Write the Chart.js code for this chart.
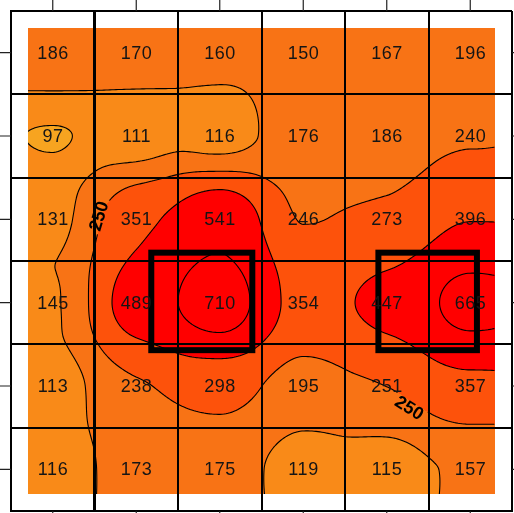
<!DOCTYPE html>
<html>
<head>
<meta charset="utf-8">
<script src="https://cdn.jsdelivr.net/npm/chart.js@4/dist/chart.umd.min.js"></script>
<style>
  html, body { margin: 0; padding: 0; background: #ffffff; }
  #grafico { display: block; }
</style>
</head>
<body>
<canvas id="grafico" width="514" height="513"></canvas>
<script>
// Valores de cada fila de la rejilla (de arriba a abajo)
const fila0 = [186, 170, 160, 150, 167, 196];
const fila1 = [97, 111, 116, 176, 186, 240];
const fila2 = [131, 351, 541, 246, 273, 396];
const fila3 = [145, 489, 710, 354, 447, 665];
const fila4 = [113, 238, 298, 195, 251, 357];
const fila5 = [116, 173, 175, 119, 115, 157];
const matriz = [fila0, fila1, fila2, fila3, fila4, fila5];

// Niveles de contorno y colores de cada banda
const niveles = [100, 150, 250, 400, 600];
const coloresBanda = ['#F7A420', '#F98A18', '#F87315', '#FD520B', '#FF0000', '#FF0000'];

// Marcas de los ejes (centros de celda) y líneas de rejilla
const posTicks = [0.5, 1.5, 2.5, 3.5, 4.5, 5.5];
const lineasRejilla = [0, 1, 2, 3, 4, 5, 6];
const lineaFinaX = [0.982];

// Extensión del campo interpolado (unidades de celda)
const extensionCampo = [0.2, 5.8];

// Parcelas marcadas (cuadros gruesos), en unidades de celda
const cuadroX0 = [1.68, 4.40];
const cuadroX1 = [2.89, 5.58];
const cuadroY0 = [2.90, 2.90];
const cuadroY1 = [4.07, 4.07];

// Etiquetas del contorno 250
const etiqTexto = ['250', '250'];
const etiqX = [1.05, 4.77];
const etiqY = [2.46, 4.76];
const etiqRot = [-73, 32];

const celdas = [];
matriz.forEach((fila, j) => {
  fila.forEach((v, i) => celdas.push({ x: i + 0.5, y: j + 0.5, v: v }));
});

/**
 * Superficie: mezcla de Hermite monótona (PCHIP) y distancia inversa
 */
function pendientes(p) {
  const n = p.length;
  const m = new Array(n).fill(0);
  for (let k = 1; k < n - 1; k++) {
    const d0 = p[k] - p[k - 1], d1 = p[k + 1] - p[k];
    if (d0 * d1 > 0) m[k] = 2 / (1 / d0 + 1 / d1);
  }
  return m;
}

function hermite(p, m, x) {
  const n = p.length;
  if (x <= 0) return p[0];
  if (x >= n - 1) return p[n - 1];
  const k = Math.floor(x), t = x - k;
  const t2 = t * t, t3 = t2 * t;
  return (2 * t3 - 3 * t2 + 1) * p[k] + (t3 - 2 * t2 + t) * m[k] +
         (-2 * t3 + 3 * t2) * p[k + 1] + (t3 - t2) * m[k + 1];
}

const pendFilas = matriz.map(pendientes);

function pchip(u, w) {
  const col = matriz.map((f, j) => hermite(f, pendFilas[j], u - 0.5));
  return hermite(col, pendientes(col), w - 0.5);
}

function idw(u, w) {
  let sw = 0, sv = 0;
  for (let k = 0; k < celdas.length; k++) {
    const dx = u - celdas[k].x, dy = w - celdas[k].y;
    const d2 = dx * dx + dy * dy;
    if (d2 < 1e-10) return celdas[k].v;
    const peso = 1 / (d2 * Math.sqrt(d2));
    sw += peso;
    sv += peso * celdas[k].v;
  }
  return sv / sw;
}

const mezclaIdw = 0.3;
function valorEn(u, w) {
  return (1 - mezclaIdw) * pchip(u, w) + mezclaIdw * idw(u, w);
}

function banda(v) {
  let b = 0;
  niveles.forEach(l => { if (v >= l) b++; });
  return b;
}

function hexRgb(h) {
  return [parseInt(h.slice(1, 3), 16), parseInt(h.slice(3, 5), 16), parseInt(h.slice(5, 7), 16)];
}

/**
 * Marching squares sobre una malla de muestras
 */
function segmentos(campo, nivel) {
  const segs = [];
  for (let j = 0; j < campo.length - 1; j++) {
    for (let i = 0; i < campo[j].length - 1; i++) {
      const v0 = campo[j][i], v1 = campo[j][i + 1], v2 = campo[j + 1][i + 1], v3 = campo[j + 1][i];
      const code = (v0 > nivel ? 8 : 0) | (v1 > nivel ? 4 : 0) | (v2 > nivel ? 2 : 0) | (v3 > nivel ? 1 : 0);
      if (code === 0 || code === 15) continue;
      const top = [i + (nivel - v0) / (v1 - v0), j];
      const right = [i + 1, j + (nivel - v1) / (v2 - v1)];
      const bottom = [i + (nivel - v3) / (v2 - v3), j + 1];
      const left = [i, j + (nivel - v0) / (v3 - v0)];
      switch (code) {
        case 1: case 14: segs.push([left, bottom]); break;
        case 2: case 13: segs.push([bottom, right]); break;
        case 3: case 12: segs.push([left, right]); break;
        case 4: case 11: segs.push([top, right]); break;
        case 6: case 9: segs.push([top, bottom]); break;
        case 7: case 8: segs.push([left, top]); break;
        case 5: segs.push([top, right]); segs.push([left, bottom]); break;
        case 10: segs.push([left, top]); segs.push([bottom, right]); break;
      }
    }
  }
  return segs;
}

// Campo de colores + líneas de contorno (debajo de la rejilla)
const pluginCampo = {
  id: 'campo',
  beforeDraw(chart) {
    const { ctx } = chart;
    const xs = chart.scales.x, ys = chart.scales.y;
    const px0 = Math.round(xs.getPixelForValue(extensionCampo[0]));
    const px1 = Math.round(xs.getPixelForValue(extensionCampo[1]));
    const py0 = Math.round(ys.getPixelForValue(extensionCampo[0]));
    const py1 = Math.round(ys.getPixelForValue(extensionCampo[1]));
    const w = px1 - px0, h = py1 - py0;

    const off = document.createElement('canvas');
    off.width = w; off.height = h;
    const octx = off.getContext('2d');
    const img = octx.createImageData(w, h);
    const rgb = coloresBanda.map(hexRgb);
    for (let y = 0; y < h; y++) {
      const vy = ys.getValueForPixel(py0 + y + 0.5);
      for (let x = 0; x < w; x++) {
        const vx = xs.getValueForPixel(px0 + x + 0.5);
        const c = rgb[banda(valorEn(vx, vy))];
        const k = (y * w + x) * 4;
        img.data[k] = c[0]; img.data[k + 1] = c[1]; img.data[k + 2] = c[2]; img.data[k + 3] = 255;
      }
    }
    octx.putImageData(img, 0, 0);
    ctx.drawImage(off, px0, py0);

    // malla de muestras para contornos
    const paso = 2;
    const campo = [];
    for (let y = 0; y <= h; y += paso) {
      const fila = [];
      const vy = ys.getValueForPixel(py0 + y);
      for (let x = 0; x <= w; x += paso) {
        fila.push(valorEn(xs.getValueForPixel(px0 + x), vy));
      }
      campo.push(fila);
    }

    ctx.save();
    // recorte: campo menos los huecos de las etiquetas
    ctx.beginPath();
    ctx.rect(px0, py0, w, h);
    etiqTexto.forEach((t, k) => {
      const cx = xs.getPixelForValue(etiqX[k]);
      const cy = ys.getPixelForValue(etiqY[k]);
      const a = etiqRot[k] * Math.PI / 180;
      const hw = 18, hh = 8;
      const pts = [[-hw, -hh], [hw, -hh], [hw, hh], [-hw, hh]].map(p => [
        cx + p[0] * Math.cos(a) - p[1] * Math.sin(a),
        cy + p[0] * Math.sin(a) + p[1] * Math.cos(a)
      ]);
      ctx.moveTo(pts[0][0], pts[0][1]);
      for (let m = 1; m < 4; m++) ctx.lineTo(pts[m][0], pts[m][1]);
      ctx.closePath();
    });
    ctx.clip('evenodd');

    ctx.strokeStyle = '#000000';
    ctx.lineWidth = 1.1;
    ctx.lineCap = 'round';
    niveles.forEach(nivel => {
      ctx.beginPath();
      segmentos(campo, nivel).forEach(s => {
        ctx.moveTo(px0 + s[0][0] * paso, py0 + s[0][1] * paso);
        ctx.lineTo(px0 + s[1][0] * paso, py0 + s[1][1] * paso);
      });
      ctx.stroke();
    });
    ctx.restore();
  }
};

// Valores, cuadros, etiquetas de contorno y marcas exteriores
const pluginEncima = {
  id: 'encima',
  afterDraw(chart) {
    const { ctx, chartArea: area } = chart;
    const xs = chart.scales.x, ys = chart.scales.y;

    // línea fina extra junto a la primera división
    ctx.save();
    ctx.strokeStyle = '#000000';
    ctx.lineWidth = 1;
    ctx.beginPath();
    lineaFinaX.forEach(v => {
      const x = Math.round(xs.getPixelForValue(v)) + 0.5;
      ctx.moveTo(x, area.top); ctx.lineTo(x, area.bottom);
    });
    ctx.stroke();
    ctx.restore();

    // cuadros gruesos
    ctx.save();
    ctx.strokeStyle = '#000000';
    ctx.lineWidth = 6;
    ctx.lineJoin = 'miter';
    cuadroX0.forEach((x0, k) => {
      const a = xs.getPixelForValue(x0), b = xs.getPixelForValue(cuadroX1[k]);
      const c = ys.getPixelForValue(cuadroY0[k]), d = ys.getPixelForValue(cuadroY1[k]);
      ctx.strokeRect(a, c, b - a, d - c);
    });
    ctx.restore();

    // valores de cada celda
    const meta = chart.getDatasetMeta(0);
    ctx.save();
    ctx.fillStyle = '#151515';
    ctx.font = '18px "Liberation Sans", Arial, sans-serif';
    ctx.letterSpacing = '0.6px';
    ctx.textAlign = 'center';
    ctx.textBaseline = 'middle';
    meta.data.forEach((pt, k) => {
      ctx.fillText(String(celdas[k].v), pt.x + 0.3, pt.y + 1);
    });
    ctx.restore();

    // etiquetas del contorno
    ctx.save();
    ctx.fillStyle = '#000000';
    ctx.font = 'bold 18px "Liberation Sans", Arial, sans-serif';
    ctx.textAlign = 'center';
    ctx.textBaseline = 'middle';
    etiqTexto.forEach((t, k) => {
      ctx.save();
      ctx.translate(xs.getPixelForValue(etiqX[k]), ys.getPixelForValue(etiqY[k]));
      ctx.rotate(etiqRot[k] * Math.PI / 180);
      ctx.fillText(t, 0, 1);
      ctx.restore();
    });
    ctx.restore();

    // marcas exteriores en los cuatro lados
    ctx.save();
    ctx.strokeStyle = '#222222';
    ctx.lineWidth = 1.2;
    ctx.beginPath();
    posTicks.forEach(v => {
      const x = xs.getPixelForValue(v);
      const y = ys.getPixelForValue(v);
      ctx.moveTo(x, 0); ctx.lineTo(x, area.top);
      ctx.moveTo(x, area.bottom); ctx.lineTo(x, chart.height);
      ctx.moveTo(0, y); ctx.lineTo(area.left, y);
      ctx.moveTo(area.right, y); ctx.lineTo(chart.width, y);
    });
    ctx.stroke();
    ctx.restore();
  }
};

const ejeComun = {
  type: 'linear',
  min: lineasRejilla[0],
  max: lineasRejilla[lineasRejilla.length - 1],
  ticks: { display: false, stepSize: 1 },
  grid: { color: '#000000', lineWidth: 2, drawTicks: false },
  border: { display: true, color: '#000000', width: 2 }
};

new Chart(document.getElementById('grafico'), {
  type: 'scatter',
  data: {
    datasets: [{
      data: celdas,
      pointRadius: 0,
      pointHoverRadius: 0
    }]
  },
  options: {
    responsive: false,
    animation: false,
    devicePixelRatio: 1,
    layout: { padding: { left: 11, top: 11, right: 2, bottom: 2 } },
    plugins: { legend: { display: false }, tooltip: { enabled: false } },
    events: [],
    scales: {
      x: Object.assign({}, ejeComun, { position: 'bottom' }),
      y: Object.assign({}, ejeComun, { position: 'left', reverse: true })
    }
  },
  plugins: [pluginCampo, pluginEncima]
});
</script>
</body>
</html>
